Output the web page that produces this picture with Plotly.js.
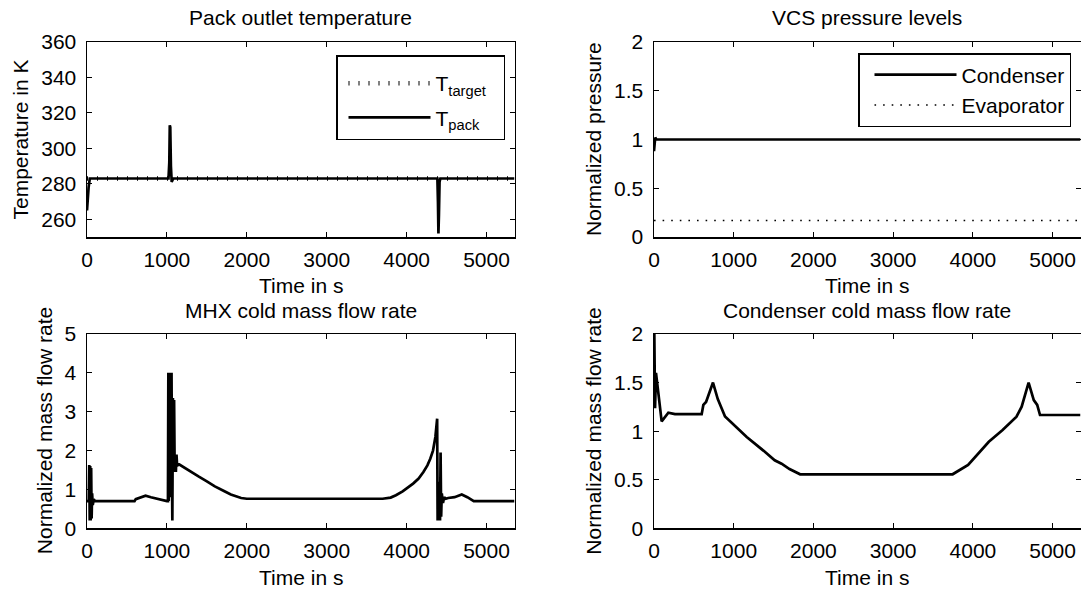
<!DOCTYPE html>
<html>
<head>
<meta charset="utf-8">
<script src="https://cdn.plot.ly/plotly-3.0.1.min.js"></script>
<style>
html,body{margin:0;padding:0;background:#fff;overflow:hidden;}
#chart{width:1081px;height:590px;}
</style>
</head>
<body>
<div id="chart"></div>
<script>
// ---------- Data ----------
// Pack outlet temperature
const tPackTime = [0, 5, 12, 20, 35, 1020, 1030, 1036, 1042, 1050, 1060, 1068, 1080, 4385, 4392, 4398, 4404, 4412, 4422, 5350];
const tPackVal  = [265, 270, 276, 278, 283, 283, 292, 313, 312, 290, 281, 282, 283, 283, 270, 252, 262, 281, 283, 283];
const tTargetTime = [0, 5350];
const tTargetVal  = [283, 283];

// VCS pressure levels
const condTime = [0, 6, 15, 30, 5350];
const condVal  = [0.88, 1.0, 1.02, 1.0, 1.0];
const evapTime = [0, 5350];
const evapVal  = [0.17, 0.17];

// MHX cold mass flow rate
const mhxTime = [0, 22, 28, 34, 40, 46, 52, 58, 64, 72, 85, 100, 595, 610, 660, 733, 800, 900, 1000,
  1013, 1018, 1023, 1028, 1033, 1038, 1043, 1048, 1053, 1058, 1063, 1068, 1075, 1082, 1090, 1097, 1105, 1112, 1120, 1128,
  1141, 1200, 1300, 1400, 1500, 1600, 1714, 1800, 1929, 2000, 3700, 3800, 3866, 3950, 4081, 4150, 4210, 4260, 4296, 4330, 4360, 4382,
  4388, 4395, 4402, 4410, 4418, 4425, 4432, 4440, 4455, 4470, 4490, 4520, 4600, 4690, 4760, 4840, 5350];
const mhxVal = [0.70, 0.70, 1.63, 0.2, 1.6, 0.2, 1.55, 0.25, 0.9, 0.6, 0.75, 0.70, 0.70, 0.75, 0.78, 0.84, 0.8, 0.74, 0.70,
  0.70, 4.0, 0.7, 4.0, 0.8, 4.0, 0.9, 4.0, 1.2, 4.0, 1.5, 0.2, 3.35, 1.45, 3.3, 1.5, 1.9, 1.45, 1.9, 1.6,
  1.66, 1.58, 1.45, 1.33, 1.21, 1.08, 0.96, 0.87, 0.78, 0.76, 0.76, 0.79, 0.85, 0.95, 1.15, 1.28, 1.45, 1.62, 1.79, 2.0, 2.35, 2.82,
  0.2, 1.2, 0.2, 1.0, 0.2, 1.95, 0.3, 0.9, 0.65, 0.8, 0.76, 0.78, 0.8, 0.87, 0.8, 0.70, 0.70];

// Condenser cold mass flow rate
const cndTime = [0, 4, 13, 25, 96, 180, 263, 598, 619, 653, 740, 800, 891, 954, 1163, 1372, 1514, 1600, 1700, 1833,
  3746, 3940, 4114, 4200, 4373, 4547, 4612, 4699, 4764, 4807, 4842, 5350];
const cndVal = [2.0, 2.0, 1.235, 1.60, 1.10, 1.19, 1.175, 1.175, 1.27, 1.30, 1.50, 1.33, 1.15, 1.10, 0.94, 0.80, 0.70, 0.665, 0.61, 0.556,
  0.556, 0.652, 0.806, 0.891, 1.012, 1.149, 1.252, 1.50, 1.32, 1.27, 1.166, 1.166];

// Labels
const titles = ['Pack outlet temperature', 'VCS pressure levels', 'MHX cold mass flow rate', 'Condenser cold mass flow rate'];
const yTitles = ['Temperature in K', 'Normalized pressure', 'Normalized mass flow rate', 'Normalized mass flow rate'];
const xTitle = 'Time in s';
const legendNames = ['T<sub>target</sub>', 'T<sub>pack</sub>', 'Condenser', 'Evaporator'];

// ---------- Layout helpers ----------
const W = 1081, H = 590;
const FONT = 'Liberation Sans, Arial, Helvetica, sans-serif';
const FS = 21;
const PAD = '\u00a0\u00a0';
const px = v => v / W;
const py = v => 1 - v / H;

const colL = [87, 514.5], colR = [654, 1080.5];
const rowT = [42, 237], rowB = [334, 528.3];

function xax(col, anchor) {
  return {
    domain: [px(col[0]), px(col[1])], anchor: anchor, range: [0, 5350],
    tickmode: 'linear', tick0: 0, dtick: 1000,
    ticks: 'inside', ticklen: 5, tickwidth: 1, tickcolor: '#000',
    showline: true, linecolor: '#000', linewidth: 1.5, mirror: 'ticks',
    showgrid: false, zeroline: false,
    tickfont: {family: FONT, size: FS, color: '#000'}, ticklabelstandoff: 3
  };
}
function yax(row, anchor, range, dtick, tick0) {
  return {
    domain: [py(row[1]), py(row[0])], anchor: anchor, range: range,
    tickmode: 'linear', tick0: tick0, dtick: dtick,
    ticks: 'inside', ticklen: 5, tickwidth: 1, tickcolor: '#000',
    showline: true, linecolor: '#000', linewidth: 1.5, mirror: 'ticks',
    showgrid: false, zeroline: false,
    tickfont: {family: FONT, size: FS, color: '#000'}, ticklabelstandoff: 5
  };
}

const LW = 2.7;
const traces = [
  {x: tTargetTime, y: tTargetVal, xaxis: 'x', yaxis: 'y', mode: 'lines', name: legendNames[0] + PAD,
   line: {color: '#000', width: 4.5, dash: '1px,9px'}, legend: 'legend', legendgroup: 'g1'},
  {x: tPackTime, y: tPackVal, xaxis: 'x', yaxis: 'y', mode: 'lines', name: legendNames[1] + PAD,
   line: {color: '#000', width: LW}, legend: 'legend', legendgroup: 'g2'},
  {x: condTime, y: condVal, xaxis: 'x2', yaxis: 'y2', mode: 'lines', name: legendNames[2],
   line: {color: '#000', width: LW}, legend: 'legend2'},
  {x: evapTime, y: evapVal, xaxis: 'x2', yaxis: 'y2', mode: 'lines', name: legendNames[3],
   line: {color: '#000', width: 1.6, dash: '1.6px,7px'}, legend: 'legend2'},
  {x: mhxTime, y: mhxVal, xaxis: 'x3', yaxis: 'y3', mode: 'lines', showlegend: false,
   line: {color: '#000', width: LW}},
  {x: cndTime, y: cndVal, xaxis: 'x4', yaxis: 'y4', mode: 'lines', showlegend: false,
   line: {color: '#000', width: LW}}
];

function ann(text, x, y, angle) {
  return {text: text, x: px(x), y: py(y), xref: 'paper', yref: 'paper', showarrow: false,
          xanchor: 'center', yanchor: 'middle', textangle: angle || 0,
          font: {family: FONT, size: FS, color: '#000'}};
}
const cxL = (colL[0] + colL[1]) / 2, cxR = (colR[0] + colR[1]) / 2;
const cyT = (rowT[0] + rowT[1]) / 2, cyB = (rowB[0] + rowB[1]) / 2;

const legendBase = {
  bgcolor: '#fff', bordercolor: '#000', borderwidth: 1.5,
  font: {family: FONT, size: FS, color: '#000'},
  xanchor: 'right', yanchor: 'top', itemwidth: 82
};

const layout = {
  width: W, height: H, margin: {l: 0, r: 0, t: 0, b: 0},
  paper_bgcolor: '#fff', plot_bgcolor: '#fff',
  font: {family: FONT, size: FS, color: '#000'},
  xaxis: xax(colL, 'y'), yaxis: yax(rowT, 'x', [250, 360], 20, 260),
  xaxis2: xax(colR, 'y2'), yaxis2: yax(rowT, 'x2', [0, 2], 0.5, 0),
  xaxis3: xax(colL, 'y3'), yaxis3: yax(rowB, 'x3', [0, 5], 1, 0),
  xaxis4: xax(colR, 'y4'), yaxis4: yax(rowB, 'x4', [0, 2], 0.5, 0),
  legend: Object.assign({}, legendBase, {x: px(505), y: py(55), tracegroupgap: 4, indentation: 6,
    title: {text: '\u00a0', font: {family: FONT, size: 5}}}),
  legend2: Object.assign({}, legendBase, {x: px(1071), y: py(53), indentation: 10}),
  annotations: [
    ann(titles[0], cxL, 18), ann(titles[1], cxR, 18),
    ann(titles[2], cxL, 310), ann(titles[3], cxR, 310),
    ann(xTitle, cxL, 285), ann(xTitle, cxR, 285),
    ann(xTitle, cxL, 577), ann(xTitle, cxR, 577),
    ann(yTitles[0], 20, cyT, -90), ann(yTitles[1], 593.5, cyT, -90),
    ann(yTitles[2], 44, cyB, -90), ann(yTitles[3], 593.5, cyB, -90)
  ]
};

Plotly.newPlot('chart', traces, layout, {displayModeBar: false, staticPlot: true});
</script>
</body>
</html>
